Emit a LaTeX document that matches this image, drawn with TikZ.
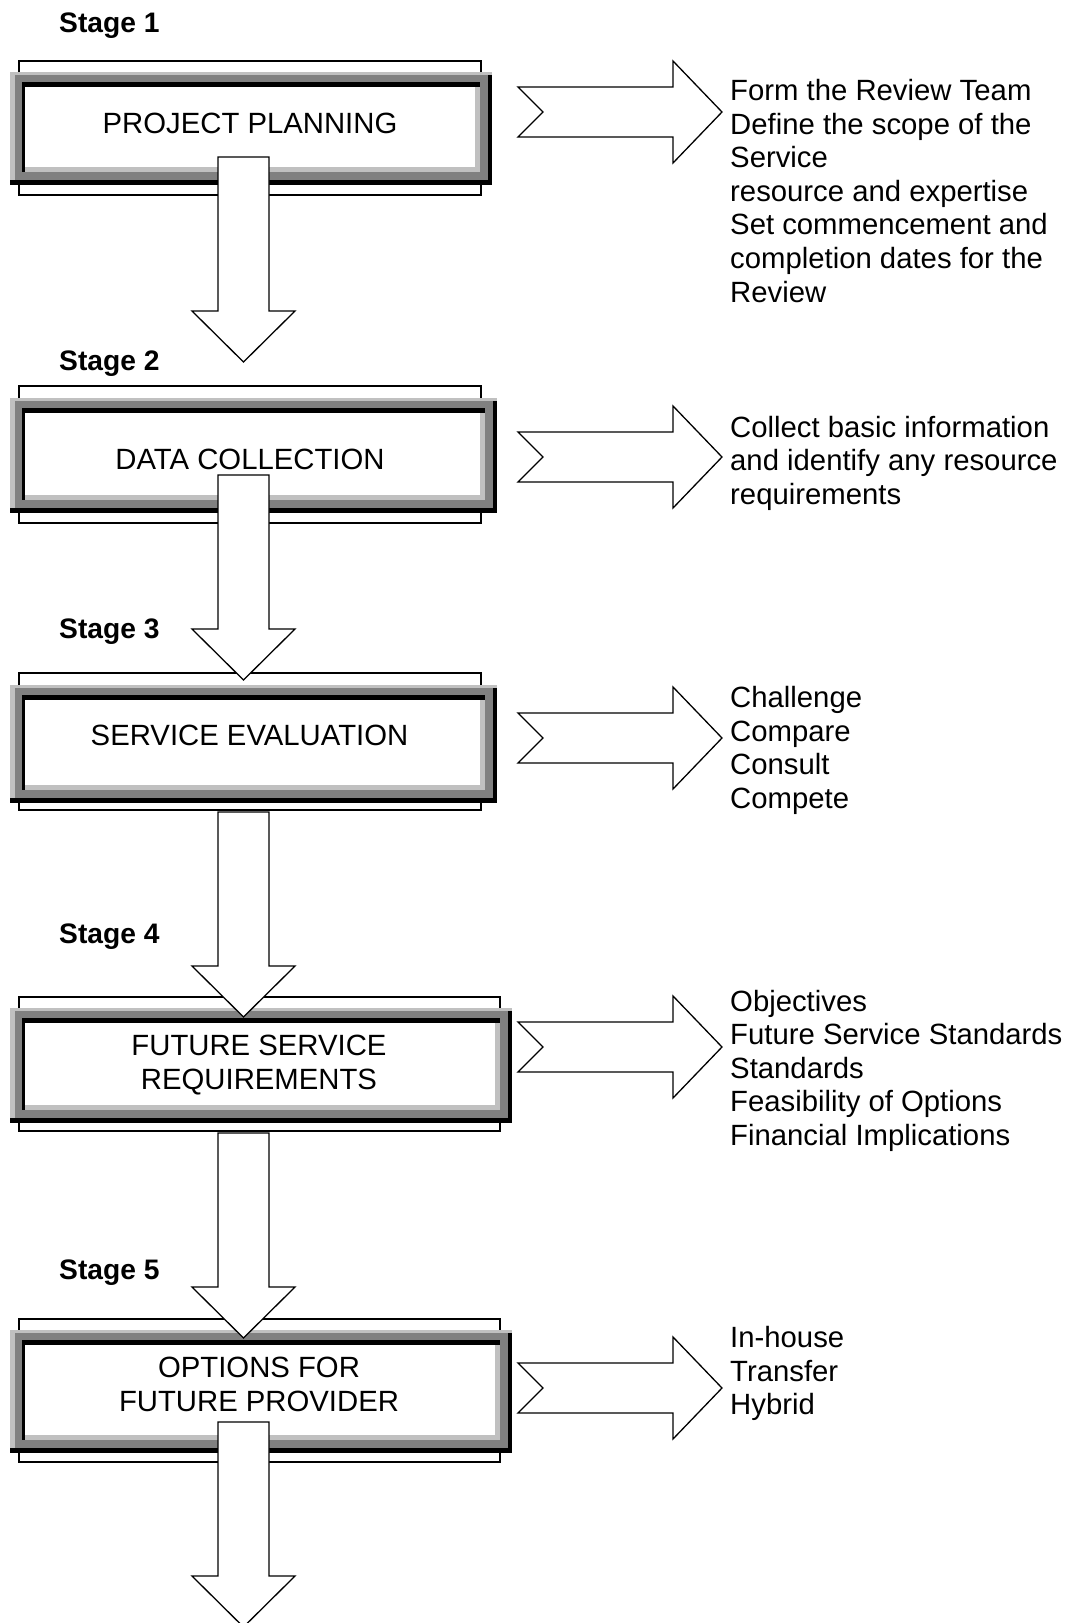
\documentclass[tikz,border=0pt]{standalone}
\usepackage{fontspec}
\setmainfont{Liberation Sans}
\definecolor{lgray}{HTML}{C0C0C0}
\definecolor{dgray}{HTML}{808080}
\tikzset{
  blockarrow/.style={draw=black, fill=white, line width=1.3pt, line join=miter},
  thinframe/.style={draw=black, line width=1.3pt},
  boxtext/.style={inner sep=0pt, anchor=base, font=\fontsize{29.3}{33.6}\selectfont},
  listtext/.style={inner sep=0pt, anchor=base west, font=\fontsize{29.3}{33.6}\selectfont},
  stagetext/.style={inner sep=0pt, anchor=base west, font=\fontsize{28.2}{31}\selectfont\bfseries}
}
% white interior x1 y1 x2 y2
\newcommand\myframe[4]{%
  \fill[black] ({#1-15},{#2-12}) rectangle ({#3+17},{#4+18});
  \fill[lgray] ({#1-15},{#2-15}) rectangle ({#3+13},{#4+13});
  \fill[lgray] ({#3+13},{#2-15}) rectangle ({#3+17},{#2-12});
  \fill[dgray] ({#1-10},{#2-12}) rectangle ({#3+13},{#4+13});
  \fill[black] ({#1-3},{#2-5}) rectangle ({#3+5},{#4+5});
  \fill[lgray] (#1,#2) rectangle ({#3+5},{#4+5});
  \fill[white] (#1,#2) rectangle (#3,#4);
}
% shaft top, head top
\newcommand\myvarrow[2]{%
  \draw[blockarrow] (218,#1) -- (269,#1) -- (269,#2) -- (295,#2) -- (243.5,{#2+51}) -- (192,#2) -- (218,#2) -- cycle;
}
% centre y
\newcommand\myharrow[1]{%
  \draw[blockarrow] (518,{#1-25}) -- (673,{#1-25}) -- (673,{#1-51}) -- (722,#1) -- (673,{#1+51}) -- (673,{#1+25}) -- (518,{#1+25}) -- (543,#1) -- cycle;
}
\begin{document}
\begin{tikzpicture}[x=1pt,y=-1pt]
\useasboundingbox (0,0) rectangle (1073,1623);
\clip (0,0) rectangle (1073,1623);
\fill[white] (0,0) rectangle (1073,1623);

% thin outer rectangles
\draw[thinframe] (19,61) rectangle (481,195);
\draw[thinframe] (19,386) rectangle (481,523);
\draw[thinframe] (19,673) rectangle (481,810);
\draw[thinframe] (19,997) rectangle (500,1131);
\draw[thinframe] (19,1319) rectangle (500,1462);

% bevelled frames
\myframe{25}{87}{475}{167}
\myframe{25}{413}{480}{495}
\myframe{25}{700}{480}{785}
\myframe{25}{1023}{495}{1105}
\myframe{25}{1345}{495}{1435}

% box texts
\node[boxtext] (b1) at (250,133.5) {PROJECT PLANNING};
\node[boxtext] (b2) at (250,469.5) {DATA COLLECTION};
\node[boxtext] (b3) at (249.5,745.5) {SERVICE EVALUATION};
\node[boxtext] (b4) at (259,1055.5) {\begin{tabular}[t]{@{}c@{}}FUTURE SERVICE\\REQUIREMENTS\end{tabular}};
\node[boxtext] (b5) at (259,1377.5) {\begin{tabular}[t]{@{}c@{}}OPTIONS FOR\\FUTURE PROVIDER\end{tabular}};

% vertical block arrows
\myvarrow{157}{311}
\myvarrow{475}{629}
\myvarrow{812}{966}
\myvarrow{1133}{1287}
\myvarrow{1422}{1576}

% horizontal notched arrows
\myharrow{112}
\myharrow{457}
\myharrow{738}
\myharrow{1047}
\myharrow{1388}

% stage labels
\node[stagetext] (s1) at (59,32) {Stage 1};
\node[stagetext] (s2) at (59,370) {Stage 2};
\node[stagetext] (s3) at (59,638.5) {Stage 3};
\node[stagetext] (s4) at (59,943.5) {Stage 4};
\node[stagetext] (s5) at (59,1279.5) {Stage 5};

% lists
\node[listtext] (l1) at (730,100.5) {\begin{tabular}[t]{@{}l@{}}Form the Review Team\\Define the scope of the\\Service\\resource and expertise\\Set commencement and\\completion dates for the\\Review\end{tabular}};
\node[listtext] (l2) at (730,437) {\begin{tabular}[t]{@{}l@{}}Collect basic information\\and identify any resource\\requirements\end{tabular}};
\node[listtext] (l3) at (730,707.5) {\begin{tabular}[t]{@{}l@{}}Challenge\\Compare\\Consult\\Compete\end{tabular}};
\node[listtext] (l4) at (730,1011) {\begin{tabular}[t]{@{}l@{}}Objectives\\Future Service Standards\\Standards\\Feasibility of Options\\Financial Implications\end{tabular}};
\node[listtext] (l5) at (730,1347.5) {\begin{tabular}[t]{@{}l@{}}In-house\\Transfer\\Hybrid\end{tabular}};
\end{tikzpicture}
\end{document}
